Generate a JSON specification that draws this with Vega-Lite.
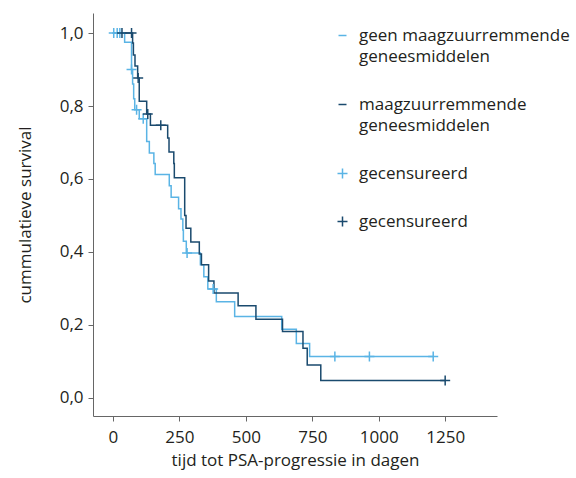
{
  "$schema": "https://vega.github.io/schema/vega-lite/v6.json",
  "width": 404,
  "height": 403,
  "autosize": {"type": "none"},
  "padding": {"left": 93, "top": 13, "right": 79, "bottom": 62},
  "config": {
    "view": {"stroke": null},
    "font": "Open Sans",
    "axis": {"grid": false, "domainColor": "#666666", "tickColor": "#666666", "labelColor": "#231f20", "titleColor": "#231f20", "labelFont": "Open Sans", "titleFont": "Open Sans", "labelFontSize": 17, "titleFontSize": 17, "titleFontWeight": "normal", "tickSize": 5},
    "legend": {"labelFont": "Open Sans", "labelFontSize": 17, "labelColor": "#231f20", "labelLimit": 400}
  },
  "datasets": {
    "curves": [
      {"grp": "geen", "t": 0, "s": 1.0}, {"grp": "geen", "t": 44, "s": 0.975}, {"grp": "geen", "t": 70, "s": 0.9}, {"grp": "geen", "t": 74, "s": 0.86}, {"grp": "geen", "t": 78, "s": 0.82}, {"grp": "geen", "t": 82, "s": 0.79}, {"grp": "geen", "t": 99, "s": 0.765}, {"grp": "geen", "t": 127, "s": 0.703}, {"grp": "geen", "t": 137, "s": 0.671}, {"grp": "geen", "t": 154, "s": 0.642}, {"grp": "geen", "t": 159, "s": 0.612}, {"grp": "geen", "t": 212, "s": 0.581}, {"grp": "geen", "t": 219, "s": 0.55}, {"grp": "geen", "t": 247, "s": 0.518}, {"grp": "geen", "t": 256, "s": 0.49}, {"grp": "geen", "t": 263, "s": 0.46}, {"grp": "geen", "t": 265, "s": 0.429}, {"grp": "geen", "t": 276, "s": 0.397}, {"grp": "geen", "t": 329, "s": 0.365}, {"grp": "geen", "t": 342, "s": 0.332}, {"grp": "geen", "t": 357, "s": 0.298}, {"grp": "geen", "t": 389, "s": 0.263}, {"grp": "geen", "t": 458, "s": 0.223}, {"grp": "geen", "t": 635, "s": 0.188}, {"grp": "geen", "t": 690, "s": 0.149}, {"grp": "geen", "t": 740, "s": 0.113}, {"grp": "geen", "t": 1208, "s": 0.113},
      {"grp": "maag", "t": 0, "s": 1.0}, {"grp": "maag", "t": 74, "s": 0.973}, {"grp": "maag", "t": 77, "s": 0.94}, {"grp": "maag", "t": 83, "s": 0.91}, {"grp": "maag", "t": 93, "s": 0.877}, {"grp": "maag", "t": 99, "s": 0.813}, {"grp": "maag", "t": 127, "s": 0.778}, {"grp": "maag", "t": 141, "s": 0.747}, {"grp": "maag", "t": 206, "s": 0.712}, {"grp": "maag", "t": 211, "s": 0.674}, {"grp": "maag", "t": 229, "s": 0.642}, {"grp": "maag", "t": 231, "s": 0.603}, {"grp": "maag", "t": 270, "s": 0.5}, {"grp": "maag", "t": 275, "s": 0.465}, {"grp": "maag", "t": 293, "s": 0.427}, {"grp": "maag", "t": 325, "s": 0.394}, {"grp": "maag", "t": 333, "s": 0.365}, {"grp": "maag", "t": 360, "s": 0.32}, {"grp": "maag", "t": 380, "s": 0.287}, {"grp": "maag", "t": 471, "s": 0.252}, {"grp": "maag", "t": 538, "s": 0.215}, {"grp": "maag", "t": 638, "s": 0.182}, {"grp": "maag", "t": 715, "s": 0.136}, {"grp": "maag", "t": 731, "s": 0.09}, {"grp": "maag", "t": 782, "s": 0.047}, {"grp": "maag", "t": 1250, "s": 0.047}
    ],
    "censors": [
      {"grp": "cens_geen", "t": 3, "s": 1.0}, {"grp": "cens_geen", "t": 16, "s": 1.0}, {"grp": "cens_geen", "t": 26, "s": 1.0}, {"grp": "cens_geen", "t": 70, "s": 0.9}, {"grp": "cens_geen", "t": 89, "s": 0.79}, {"grp": "cens_geen", "t": 114, "s": 0.765}, {"grp": "cens_geen", "t": 279, "s": 0.397}, {"grp": "cens_geen", "t": 377, "s": 0.298}, {"grp": "cens_geen", "t": 835, "s": 0.113}, {"grp": "cens_geen", "t": 965, "s": 0.113}, {"grp": "cens_geen", "t": 1205, "s": 0.113},
      {"grp": "cens_maag", "t": 34, "s": 1.0}, {"grp": "cens_maag", "t": 70, "s": 1.0}, {"grp": "cens_maag", "t": 95, "s": 0.877}, {"grp": "cens_maag", "t": 131, "s": 0.778}, {"grp": "cens_maag", "t": 180, "s": 0.747}, {"grp": "cens_maag", "t": 1250, "s": 0.047}
    ]
  },
  "layer": [
    {
      "data": {"name": "curves"},
      "mark": {"type": "line", "interpolate": "step-after", "strokeWidth": 1.5},
      "encoding": {
        "x": {"field": "t", "type": "quantitative", "scale": {"domain": [-75, 1445], "nice": false, "zero": false},
          "axis": {"values": [0, 250, 500, 750, 1000, 1250], "format": "d", "title": "tijd tot PSA-progressie in dagen", "labelPadding": 8, "titlePadding": 7}},
        "y": {"field": "s", "type": "quantitative", "scale": {"domain": [-0.05, 1.055], "nice": false, "zero": false},
          "axis": {"values": [0, 0.2, 0.4, 0.6, 0.8, 1.0], "labelExpr": "replace(format(datum.value, '.1f'), '.', ',')", "title": "cummulatieve survival", "labelPadding": 5, "titlePadding": 25}},
        "color": {"field": "grp", "type": "nominal",
          "scale": {"domain": ["geen", "maag", "cens_geen", "cens_maag"], "range": ["#5ab4e5", "#1a4a6e", "#5ab4e5", "#1a4a6e"]},
          "legend": {"orient": "none", "legendX": 241, "legendY": 14, "title": null, "rowPadding": 30, "symbolSize": 100, "labelOffset": 8,
            "labelExpr": "datum.value == 'geen' ? ['geen maagzuurremmende', 'geneesmiddelen'] : datum.value == 'maag' ? ['maagzuurremmende', 'geneesmiddelen'] : 'gecensureerd'",
            "encode": {
              "symbols": {"update": {
                "shape": {"signal": "(datum.value == 'geen' || datum.value == 'maag') ? 'M-0.8,0H0.8' : 'M-1,0H1M0,-1V1'"},
                "stroke": {"signal": "(datum.value == 'geen' || datum.value == 'cens_geen') ? '#5ab4e5' : '#1a4a6e'"},
                "fill": {"value": "transparent"},
                "strokeWidth": {"value": 1.5}
              }},
              "labels": {"update": {"lineHeight": {"value": 21}}}
            }
          }}
      }
    },
    {
      "data": {"name": "censors"},
      "mark": {"type": "point", "shape": "M-1,0H1M0,-1V1", "size": 100, "strokeWidth": 1.5, "filled": false, "opacity": 1},
      "encoding": {
        "x": {"field": "t", "type": "quantitative"},
        "y": {"field": "s", "type": "quantitative"},
        "color": {"field": "grp", "type": "nominal"}
      }
    }
  ]
}
